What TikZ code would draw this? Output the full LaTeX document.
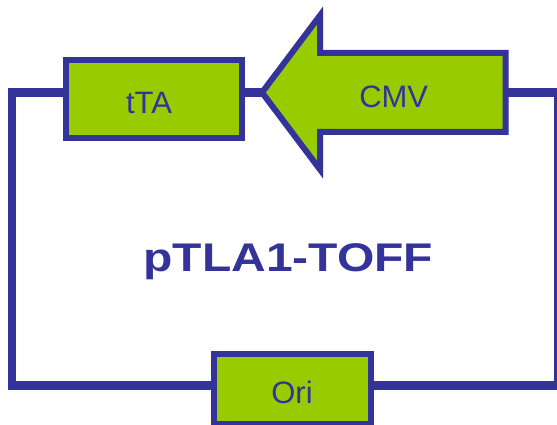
\documentclass[tikz,border=0pt]{standalone}
\usepackage{fontspec}
\usepackage{graphicx}
\setmainfont{Liberation Sans}
\usetikzlibrary{calc}
\definecolor{dblue}{RGB}{51,51,153}
\definecolor{lgreen}{RGB}{153,204,0}
\begin{document}
\begin{tikzpicture}[x=1pt,y=-1pt,
  part/.style={draw=dblue, fill=lgreen, line width=6pt, inner sep=0pt, rectangle},
  backbone/.style={draw=dblue, line width=8.5pt, line join=miter},
  lbl/.style={text=dblue, anchor=base, inner sep=0pt, font=\fontsize{31}{31}\selectfont}]
\useasboundingbox (0,0) rectangle (557,425);
\clip (0,0) rectangle (557,425);
\fill[white] (0,0) rectangle (557,425);
\coordinate (tl) at (12,92.5);
\coordinate (bl) at (12,385.5);
\coordinate (tr) at (558,92.5);
\coordinate (br) at (558,385.5);
\coordinate (tip) at (262,92.5);
\coordinate (headtop) at (320,15.5);
\coordinate (headbot) at (320,169.5);
\coordinate (shafttl) at (320,53);
\coordinate (shafttr) at (505.7,53);
\coordinate (shaftbr) at (505.7,132);
\coordinate (shaftbl) at (320,132);
\coordinate (tail) at (505.7,92.5);
\node[part, minimum width=176.5pt, minimum height=77.4pt] (tTA) at (154.2,99) {};
\node[part, minimum width=157pt, minimum height=69.7pt] (Ori) at (292.5,388.9) {};
\draw[backbone] (tTA.west |- tl) -- (tl) -- (bl) -- (Ori.west |- bl);
\draw[backbone] (tail) -- (tr) -- (br) -- (Ori.east |- br);
\draw[backbone] (tTA.east |- tl) -- (tip);
\filldraw[draw=dblue, fill=lgreen, line width=6pt, line join=miter] (tip) -- (headtop) -- (shafttl) -- (shafttr) -- (shaftbr) -- (shaftbl) -- (headbot) -- cycle;
\node[lbl] (tTAtext) at (149,113.3) {tTA};
\node[lbl] (CMVtext) at (393.7,107.3) {CMV};
\node[lbl] (Oritext) at (292,403) {Ori};
\node[text=dblue, anchor=base, inner sep=0pt, font=\fontsize{40}{40}\selectfont\bfseries] (title) at (288.3,271.7) {\scalebox{1.2}[1]{pTLA1-TOFF}};
\end{tikzpicture}
\end{document}
